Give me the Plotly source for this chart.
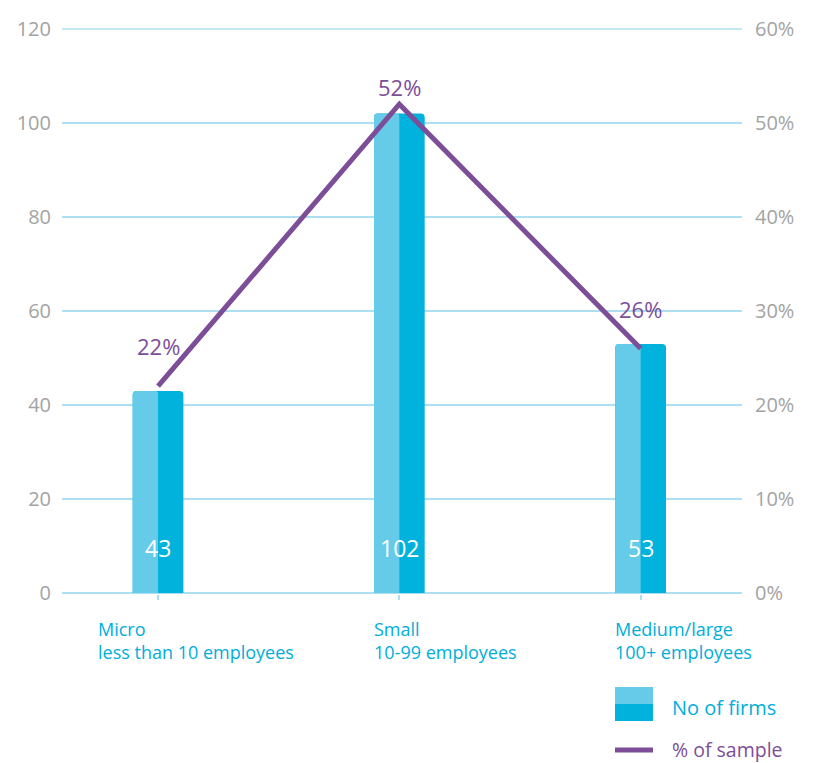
import plotly.graph_objects as go

# Firm size categories and sample figures
categories = ["Micro<br>less than 10 employees",
              "Small<br>10-99 employees",
              "Medium/large<br>100+ employees"]
firms = [43, 102, 53]
pct_sample = [22, 52, 26]
left_ticks = [0, 20, 40, 60, 80, 100, 120]
right_ticks = [0, 10, 20, 30, 40, 50, 60]

LIGHT = "#66cbe8"
DARK = "#00b2dc"
PURPLE = "#7d4e98"
GRID = "#addff0"
GREY = "#a3a3a3"
FONT = "Open Sans"

xs = list(range(len(categories)))
bar_w = 0.21

fig = go.Figure()
# darker full-width bar underneath
fig.add_trace(go.Bar(x=xs, y=firms, width=bar_w, offset=-bar_w / 2,
                     marker=dict(color=DARK, cornerradius=4, line=dict(width=0)),
                     hoverinfo="skip", showlegend=False))
# lighter left half on top
fig.add_trace(go.Bar(x=xs, y=firms, width=bar_w / 2, offset=-bar_w / 2,
                     marker=dict(color=LIGHT, cornerradius=3, line=dict(width=0)),
                     hoverinfo="skip", showlegend=False))
# share of sample line on the secondary axis
fig.add_trace(go.Scatter(x=xs, y=pct_sample, yaxis="y2", mode="lines",
                         line=dict(color=PURPLE, width=5), showlegend=False,
                         hoverinfo="skip"))

pct_label_shift = [23, 0, 23]
annotations = []
for i, (n, p) in enumerate(zip(firms, pct_sample)):
    annotations.append(dict(x=i, y=0, xref="x", yref="y", text=str(n),
                            showarrow=False, yanchor="bottom", yshift=27,
                            font=dict(family=FONT, size=23, color="white")))
    annotations.append(dict(x=i, y=p, xref="x", yref="y2", text=f"{p}%",
                            showarrow=False, yanchor="bottom",
                            yshift=pct_label_shift[i],
                            font=dict(family=FONT, size=22, color=PURPLE)))

label_offsets = [-0.258, -0.112, -0.116]
for i, (lab, off) in enumerate(zip(categories, label_offsets)):
    annotations.append(dict(x=i + off, y=0, xref="x", yref="paper", text=lab,
                            showarrow=False, xanchor="left", yanchor="top",
                            yshift=-21, align="left",
                            font=dict(family=FONT, size=18, color="#00aedb")))

W, H = 814, 763
ml, mr, mt, mb = 62, 72, 28, 169
pw, ph = W - ml - mr, H - mt - mb


def px(x):
    return (x - ml) / pw


def py(y):
    return (H - mb - y) / ph


# legend entries
annotations.append(dict(x=px(670), y=py(707), xref="paper", yref="paper",
                        text="No of firms", showarrow=False, xanchor="left",
                        yanchor="middle",
                        font=dict(family=FONT, size=20, color="#00aedb")))
annotations.append(dict(x=px(670), y=py(749), xref="paper", yref="paper",
                        text="% of sample", showarrow=False, xanchor="left",
                        yanchor="middle",
                        font=dict(family=FONT, size=19.5, color=PURPLE)))

shapes = [
    # top grid line at the last tick
    dict(type="line", xref="paper", yref="y", x0=0, x1=1,
         y0=left_ticks[-1], y1=left_ticks[-1], layer="below",
         line=dict(color=GRID, width=1.5)),
    dict(type="rect", xref="paper", yref="paper", x0=px(615), x1=px(653),
         y0=py(721), y1=py(704), fillcolor=DARK, line=dict(width=0)),
    dict(type="rect", xref="paper", yref="paper", x0=px(615), x1=px(653),
         y0=py(704), y1=py(687), fillcolor=LIGHT, line=dict(width=0)),
    dict(type="line", xref="paper", yref="paper", x0=px(615), x1=px(653),
         y0=py(750), y1=py(750), line=dict(color=PURPLE, width=5)),
]

fig.update_layout(
    width=W, height=H,
    margin=dict(l=ml, r=mr, t=mt, b=mb),
    paper_bgcolor="white", plot_bgcolor="white",
    barmode="overlay", showlegend=False,
    font=dict(family=FONT),
    xaxis=dict(range=[-0.398, 2.42], tickvals=xs, showticklabels=False,
               ticks="outside", ticklen=5, tickwidth=2, tickcolor=GRID,
               showgrid=False, zeroline=False, showline=False, fixedrange=True),
    yaxis=dict(range=[-0.2, 120.2], tickvals=left_ticks, showgrid=True,
               gridcolor=GRID, gridwidth=1.5, zeroline=True,
               zerolinecolor=GRID, zerolinewidth=1.5, showline=False,
               ticks="", ticklabelstandoff=10,
               tickfont=dict(family=FONT, size=20, color=GREY)),
    yaxis2=dict(range=[-0.1, 60.1], overlaying="y", side="right",
                tickvals=right_ticks, ticktext=[f"{t}%" for t in right_ticks],
                showgrid=False, zeroline=False, showline=False, ticks="",
                ticklabelstandoff=12,
                tickfont=dict(family=FONT, size=20, color=GREY)),
    annotations=annotations,
    shapes=shapes,
)

fig.write_html("out.html")
